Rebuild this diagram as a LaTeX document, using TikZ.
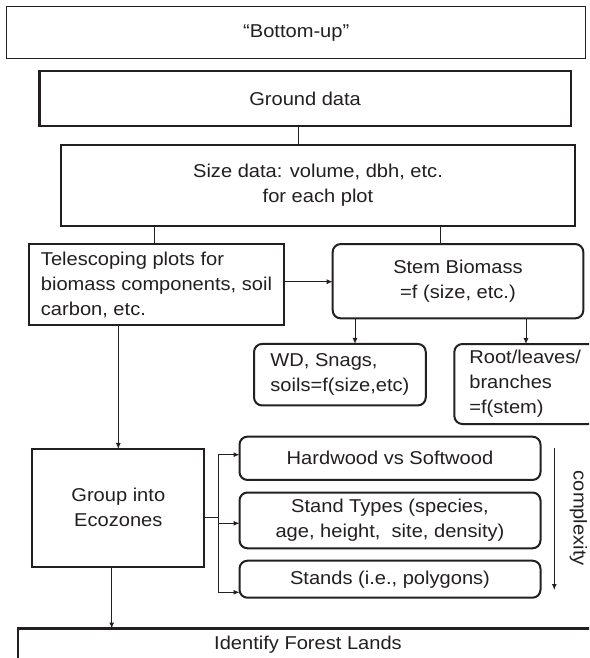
\documentclass[tikz,border=0pt]{standalone}
\usepackage{fontspec}
\setmainfont{Liberation Sans}[FakeStretch=1.08]
\usetikzlibrary{arrows.meta}
\definecolor{ink}{RGB}{35,31,32}
\begin{document}
\begin{tikzpicture}[x=1pt,y=-1pt,
 every node/.style={font=\fontsize{18.6}{25}\selectfont, text=ink},
 plain/.style={draw=ink, line width=1.3pt, inner sep=0pt, outer sep=0pt},
 heavy/.style={draw=ink, line width=2.2pt, inner sep=0pt, outer sep=0pt},
 rbox/.style={draw=ink, line width=2pt, rounded corners=8pt, inner sep=0pt, outer sep=0pt},
 conn/.style={draw=ink, line width=1pt},
 arr/.style={conn, -{Latex[length=6pt,width=5pt]}},
]
\useasboundingbox (0,0) rectangle (589,658);
\clip (0,0) rectangle (589,658);
\fill[white] (0,0) rectangle (589,658);

\node[plain, minimum width=579pt, minimum height=51.8pt] (top) at (296.2,32.6) {“Bottom-up”};
\node[heavy, minimum width=531.2pt, minimum height=55.6pt] (ground) at (305.1,98.5) {Ground data};
\node[heavy, minimum width=514pt, minimum height=81pt, align=center] (size) at (318,185.5) {Size data: volume, dbh, etc.\\for each plot};
\node[heavy, minimum width=255pt, minimum height=81pt, align=left] (tele) at (156.5,284.5) {Telescoping plots for\\biomass components, soil\\carbon, etc.};
\node[rbox, minimum width=250.6pt, minimum height=74.3pt, align=center] (stem) at (458,281.2) {Stem Biomass\\=f (size, etc.)};
\node[rbox, minimum width=171.7pt, minimum height=61.5pt, align=left] (wd) at (339.9,374.7) {WD, Snags,\\soils=f(size,etc)};
\node[rbox, minimum width=141.7pt, minimum height=80pt, align=left] (root) at (525.2,384) {Root/leaves/\\branches\\=f(stem)};
\node[heavy, minimum width=172pt, minimum height=117.7pt, align=center] (group) at (118.3,507.8) {Group into\\Ecozones};
\node[rbox, minimum width=301pt, minimum height=43.3pt] (hw) at (390,458.3) {Hardwood vs Softwood};
\node[rbox, minimum width=301pt, minimum height=55.8pt, align=center] (st) at (390,520.4) {Stand Types (species,\\age, height,\ \ site, density)};
\node[rbox, minimum width=301pt, minimum height=37pt] (stands) at (390,579.2) {Stands (i.e., polygons)};
\node[heavy, minimum width=579.4pt, minimum height=33pt] (ident) at (308,645) {Identify Forest Lands};

\node[rotate=-90] (cplx) at (578.3,518.3) {complexity};
\coordinate (ca) at (554.3,448.3);
\coordinate (cb) at (554.3,590);
\draw[arr] (ca) -- (cb);

\coordinate (k1) at (298,0);
\draw[conn] (ground.south -| k1) -- (size.north -| k1);
\coordinate (k2) at (154,0);
\draw[conn] (size.south -| k2) -- (tele.north -| k2);
\coordinate (k3) at (440,0);
\draw[conn] (size.south -| k3) -- (stem.north -| k3);
\coordinate (k4) at (0,281.7);
\draw[arr] (tele.east |- k4) -- (stem.west |- k4);
\coordinate (k5) at (355,0);
\draw[arr] (stem.south -| k5) -- (wd.north -| k5);
\coordinate (k6) at (526,0);
\draw[arr] (stem.south -| k6) -- (root.north -| k6);
\draw[arr] (tele.south -| group.north) -- (group.north);
\coordinate (k7) at (111.7,0);
\draw[arr] (group.south -| k7) -- (ident.north -| k7);

\coordinate (b0) at (218.3,517.3);
\coordinate (b1) at (218.3,454.7);
\coordinate (b2) at (218.3,523.3);
\coordinate (b3) at (218.3,592.3);
\draw[conn] (group.east |- b0) -- (b0);
\draw[conn] (b1) -- (b3);
\draw[arr] (b1) -- (b1 -| hw.west);
\draw[arr] (b2) -- (b2 -| st.west);
\draw[arr] (b3) -- (b3 -| stands.west);
\end{tikzpicture}
\end{document}
